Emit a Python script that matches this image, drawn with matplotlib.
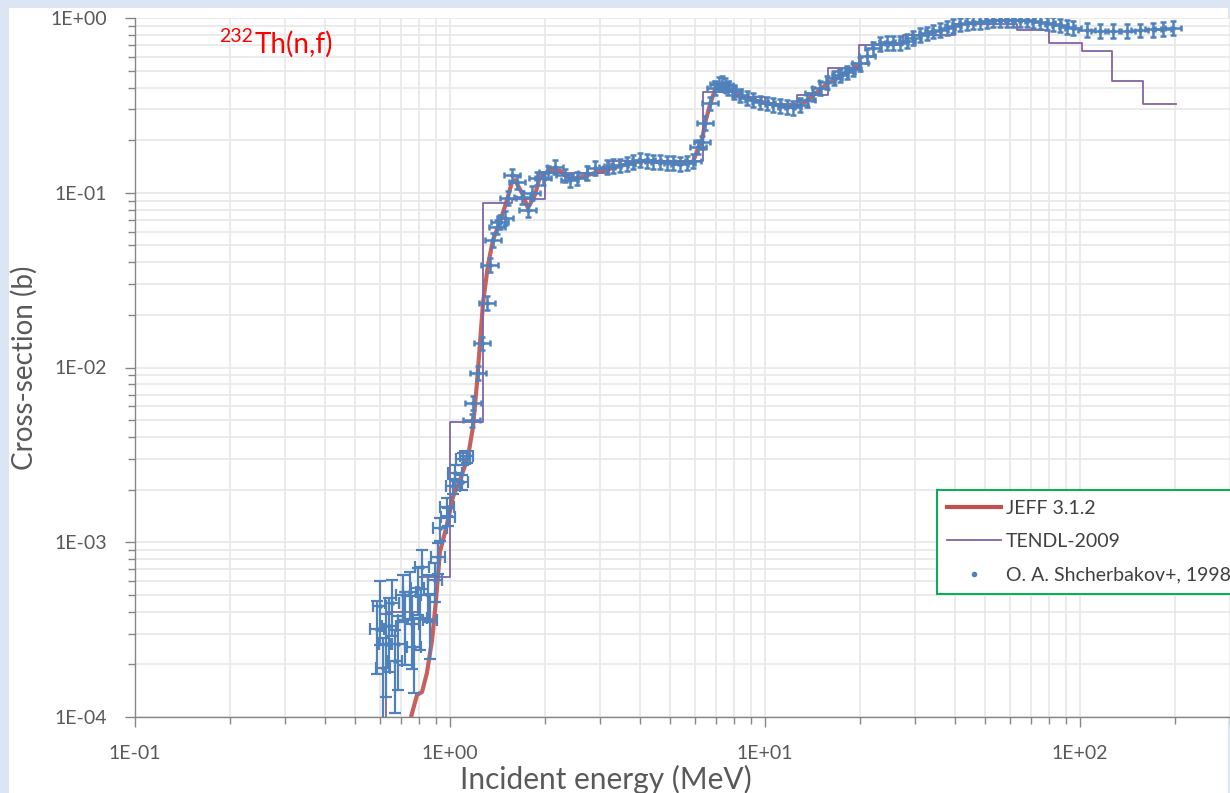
import matplotlib
matplotlib.use("Agg")
import matplotlib.pyplot as plt
from matplotlib.lines import Line2D
from matplotlib.patches import Rectangle
from matplotlib.ticker import FixedLocator, FuncFormatter, LogLocator, NullFormatter
import numpy as np

plt.rcParams["font.family"] = ["Lato", "DejaVu Sans"]

# JEFF 3.1.2 evaluated cross-section (MeV, barn)
jeff_e = [0.752, 0.786, 0.815, 0.845, 0.877, 0.903, 0.929, 0.978, 1.022, 1.076, 1.14, 1.183,
          1.218, 1.245, 1.273, 1.32, 1.369, 1.44, 1.517, 1.573, 1.608, 1.693, 1.768, 1.861,
          1.929, 2.075, 2.232, 2.4, 2.58, 2.93, 3.46, 4.0, 4.64, 5.36, 5.91, 6.13, 6.31, 6.45,
          6.69, 6.94, 7.3, 7.63, 8.33, 9.16, 10.15, 11.16, 12.27, 12.92, 14.2, 15.73, 17.3,
          18.62, 20.0]
jeff_xs = [1.0e-4, 1.34e-4, 1.39e-4, 1.79e-4, 2.76e-4, 4.68e-4, 8.8e-4, 1.26e-3, 1.82e-3, 2.27e-3,
           3.07e-3, 4.57e-3, 8.15e-3, 0.0138, 0.0234, 0.0386, 0.0537, 0.068, 0.0909, 0.115, 0.118,
           0.0997, 0.0818, 0.097, 0.123, 0.135, 0.134, 0.12, 0.122, 0.131, 0.142, 0.152, 0.15,
           0.148, 0.15, 0.18, 0.2, 0.25, 0.32, 0.39, 0.42, 0.40, 0.36, 0.34, 0.325, 0.315, 0.31,
           0.315, 0.36, 0.42, 0.46, 0.50, 0.54]

# TENDL-2009 group values: bin edges and the value held over each bin
tendl_edges = [0.626, 0.791, 1.0, 1.273, 1.573, 2.0, 3.2, 6.35, 8.0, 10.0, 12.6, 15.9, 19.9,
               27.4, 40.0, 63.1, 79.7, 101.5, 126.3, 158.5, 201.8]
tendl_xs = [3.99e-4, 6.32e-4, 4.88e-3, 0.0874, 0.092, 0.13, 0.152, 0.377, 0.353, 0.32, 0.362,
            0.517, 0.70, 0.80, 0.92, 0.854, 0.719, 0.647, 0.436, 0.322]

# Shcherbakov et al. 1998, sub-threshold points (large uncertainties)
low_e = [0.586, 0.598, 0.613, 0.625, 0.640, 0.655, 0.669, 0.683, 0.709, 0.720, 0.745, 0.758,
         0.770, 0.790, 0.803, 0.815, 0.852, 0.864, 0.896, 0.916, 0.929, 0.978, 0.985, 1.022,
         1.037, 1.09, 1.10, 1.13]
low_xs = [3.2e-4, 4.3e-4, 1.9e-4, 2.6e-4, 3.3e-4, 4.5e-4, 2.1e-4, 2.6e-4, 5.0e-4, 3.6e-4,
          5.2e-4, 3.4e-4, 2.5e-4, 5.5e-4, 3.7e-4, 7.2e-4, 5.0e-4, 3.6e-4, 6.1e-4, 8.2e-4,
          1.2e-3, 1.6e-3, 1.4e-3, 2.1e-3, 2.5e-3, 2.2e-3, 3.0e-3, 3.1e-3]
low_err_pct = [45, 40, 50, 50, 45, 35, 50, 45, 30, 45, 30, 45, 45, 30, 35, 25, 30, 40, 25, 20,
               15, 12, 12, 10, 10, 10, 8, 8]

# Shcherbakov et al. 1998, main data set
exp_e = [1.174, 1.183, 1.227, 1.264, 1.311, 1.339, 1.369, 1.41, 1.44, 1.495, 1.528, 1.573, 1.632,
         1.693, 1.768, 1.82, 1.889, 1.973, 2.046, 2.154, 2.317, 2.40, 2.53, 2.72, 2.886, 3.15,
         3.29, 3.46, 3.65, 3.81, 4.01, 4.22, 4.41, 4.64, 4.89, 5.10, 5.37, 5.65, 5.91, 6.13,
         6.31, 6.45, 6.69, 6.94, 7.14, 7.30, 7.46, 7.63, 7.97, 8.33, 8.77, 9.16, 9.64, 10.15,
         10.6, 11.16, 11.74, 12.27, 12.92, 13.59, 14.2, 14.95, 15.73, 16.56, 17.3, 18.2, 19.03,
         20.03, 21.08, 22.03, 23.18, 24.4, 25.5, 26.83, 28.24, 29.5, 31.05, 32.68, 34.15, 35.94,
         37.83, 39.53, 41.59, 43.78, 45.74, 48.14, 50.68, 52.95, 55.72, 58.66, 61.28, 64.5,
         67.88, 70.93, 74.65, 78.57, 82.1, 86.41, 90.94, 95.01, 105.2, 115.7, 127.3, 141.0,
         155.0, 170.5, 183.4, 197.3]
exp_xs = [5.0e-3, 6.3e-3, 9.3e-3, 0.0138, 0.0234, 0.0386, 0.0537, 0.0637, 0.068, 0.072, 0.0933,
          0.126, 0.115, 0.0943, 0.0796, 0.0997, 0.121, 0.121, 0.131, 0.141, 0.126, 0.118, 0.121,
          0.13, 0.139, 0.141, 0.143, 0.144, 0.147, 0.150, 0.154, 0.153, 0.151, 0.150, 0.149,
          0.148, 0.147, 0.148, 0.152, 0.183, 0.195, 0.251, 0.326, 0.398, 0.42, 0.425, 0.415,
          0.40, 0.38, 0.362, 0.35, 0.34, 0.33, 0.326, 0.32, 0.316, 0.31, 0.308, 0.318, 0.34,
          0.37, 0.40, 0.43, 0.455, 0.47, 0.49, 0.51, 0.55, 0.61, 0.67, 0.71, 0.725, 0.72, 0.72,
          0.74, 0.77, 0.80, 0.82, 0.84, 0.855, 0.88, 0.90, 0.92, 0.935, 0.945, 0.95, 0.96, 0.97,
          0.975, 0.975, 0.975, 0.975, 0.97, 0.96, 0.95, 0.935, 0.925, 0.91, 0.89, 0.877, 0.855,
          0.845, 0.843, 0.845, 0.85, 0.86, 0.865, 0.877]
EXP_ERR_PCT = 9
E_RES_PCT = 6

RED = "#c0504d"
PURPLE = "#8064a2"
BLUE = "#4f81bd"
AXIS_GREY = "#868686"
TEXT_GREY = "#595959"

W, H = 1230, 793
fig = plt.figure(figsize=(W / 100, H / 100), dpi=100, facecolor="#dce6f2")
fig.patches.append(Rectangle((9 / W, 0), 1 - 11 / W, 1 - 8 / H, transform=fig.transFigure,
                             fc="white", ec="none", zorder=-1))

# the x axis runs on past the right edge of the canvas
ax = fig.add_axes([135 / W, 1 - 717 / H, 1260 / W, 699 / H])
ax.set_facecolor("white")
ax.set_xscale("log")
ax.set_yscale("log")
ax.set_xlim(0.1, 1000)
ax.set_ylim(1e-4, 1)

ax.plot(jeff_e, jeff_xs, color=RED, lw=3.0, alpha=0.9, solid_capstyle="round", zorder=3)
ax.step(tendl_edges, [tendl_xs[0]] + tendl_xs, where="pre", color=PURPLE, lw=1.3, zorder=4)
ax.plot([tendl_edges[0], tendl_edges[0]], [1e-5, tendl_xs[0]], color=PURPLE, lw=1.3, zorder=4)

low_e_arr = np.array(low_e)
low_xs_arr = np.array(low_xs)
ax.errorbar(low_e_arr, low_xs_arr, xerr=low_e_arr * 0.05,
            yerr=low_xs_arr * np.array(low_err_pct) / 100, fmt="o", ms=2.5, color=BLUE,
            ecolor=BLUE, elinewidth=1.6, capsize=4.5, capthick=1.6, zorder=5)
exp_e_arr = np.array(exp_e)
exp_xs_arr = np.array(exp_xs)
ax.errorbar(exp_e_arr, exp_xs_arr, xerr=exp_e_arr * E_RES_PCT / 100,
            yerr=exp_xs_arr * EXP_ERR_PCT / 100, fmt="o", ms=2.5, color=BLUE,
            ecolor=BLUE, elinewidth=1.8, capsize=2, capthick=1.8, zorder=5)

# Excel-style axes: grey left/bottom spines, outward ticks, light grid
for side in ("top", "right"):
    ax.spines[side].set_visible(False)
for side in ("left", "bottom"):
    ax.spines[side].set_color(AXIS_GREY)
    ax.spines[side].set_linewidth(1.0)

sci = FuncFormatter(lambda v, p: f"{v:.0E}")
ax.xaxis.set_major_locator(FixedLocator([0.1, 1, 10, 100]))
ax.yaxis.set_major_locator(FixedLocator([1e-4, 1e-3, 1e-2, 1e-1, 1]))
ax.xaxis.set_major_formatter(sci)
ax.yaxis.set_major_formatter(sci)
ax.xaxis.set_minor_locator(LogLocator(base=10, subs=range(2, 10), numticks=20))
ax.yaxis.set_minor_locator(LogLocator(base=10, subs=range(2, 10), numticks=20))
ax.xaxis.set_minor_formatter(NullFormatter())
ax.yaxis.set_minor_formatter(NullFormatter())
ax.tick_params(which="both", direction="out", color=AXIS_GREY, width=1.0,
               labelcolor=TEXT_GREY, labelsize=14)
ax.tick_params(which="major", length=7)
ax.tick_params(which="minor", length=5)
ax.tick_params(axis="x", which="major", pad=13)
ax.tick_params(axis="y", which="major", pad=13)
ax.grid(which="both", color="#e8e8e8", lw=1.2, zorder=0)
ax.set_axisbelow(True)

ax.set_xlabel("Incident energy (MeV)", fontsize=21.5, color=TEXT_GREY, va="top")
ax.set_ylabel("Cross-section (b)", fontsize=20, color=TEXT_GREY)
ax.xaxis.set_label_coords((606 - 135) / 1260, (717 - 765) / 699)
ax.yaxis.set_label_coords((38 - 135) / 1260, (717 - 368) / 699)

fig.text(219 / W, 1 - 42 / H, "232", color="#ff0000", fontsize=14, va="baseline")
fig.text(255 / W, 1 - 53 / H, "Th(n,f)", color="#ff0000", fontsize=20, va="baseline")

handles = [Line2D([], [], color=RED, lw=3.0),
           Line2D([], [], color=PURPLE, lw=1.3),
           Line2D([], [], ls="none", marker="o", ms=3, color=BLUE)]
labels = ["JEFF 3.1.2", "TENDL-2009", "O. A. Shcherbakov+, 1998"]
leg = fig.legend(handles, labels, loc="upper left", bbox_to_anchor=(937 / W, 1 - 490 / H),
                 frameon=True, fancybox=False, edgecolor="#00b050", framealpha=1,
                 fontsize=14, handlelength=2.8, handletextpad=0.25, labelspacing=0.85,
                 borderpad=0.5, borderaxespad=0, labelcolor="#404040")
leg.get_frame().set_linewidth(1.4)

fig.savefig("out.png", dpi=100, facecolor=fig.get_facecolor())
